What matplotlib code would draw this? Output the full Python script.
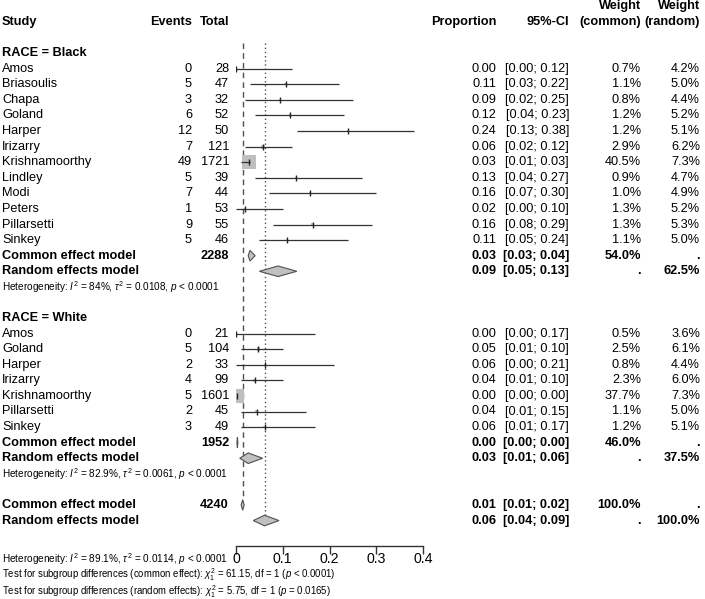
import matplotlib
matplotlib.use("Agg")
import matplotlib.pyplot as plt
import numpy as np

plt.rcParams['font.family'] = ['Liberation Sans', 'DejaVu Sans']
plt.rcParams['mathtext.fontset'] = 'custom'
plt.rcParams['mathtext.rm'] = 'Liberation Sans'
plt.rcParams['mathtext.it'] = 'Liberation Sans:italic'
plt.rcParams['mathtext.bf'] = 'Liberation Sans:bold'

# ---------------- data ----------------
black_study = ["Amos", "Briasoulis", "Chapa", "Goland", "Harper", "Irizarry", "Krishnamoorthy",
               "Lindley", "Modi", "Peters", "Pillarsetti", "Sinkey"]
black_events = [0, 5, 3, 6, 12, 7, 49, 5, 7, 1, 9, 5]
black_total = [28, 47, 32, 52, 50, 121, 1721, 39, 44, 53, 55, 46]
black_prop = [0.000, 0.106, 0.094, 0.115, 0.240, 0.058, 0.0285, 0.128, 0.159, 0.019, 0.164, 0.109]
black_lo = [0.00, 0.03, 0.02, 0.04, 0.13, 0.02, 0.01, 0.04, 0.07, 0.00, 0.08, 0.05]
black_hi = [0.12, 0.22, 0.25, 0.23, 0.38, 0.12, 0.03, 0.27, 0.30, 0.10, 0.29, 0.24]
black_wc = [0.7, 1.1, 0.8, 1.2, 1.2, 2.9, 40.5, 0.9, 1.0, 1.3, 1.3, 1.1]
black_wr = [4.2, 5.0, 4.4, 5.2, 5.1, 6.2, 7.3, 4.7, 4.9, 5.2, 5.3, 5.0]
black_n = 2288
black_common = [0.030, 0.026, 0.041]   # est, lo, hi
black_random = [0.090, 0.050, 0.130]
black_wc_sum, black_wr_sum = 54.0, 62.5
black_het = r"Heterogeneity: $\mathit{I}^2$ = 84%, $\tau^2$ = 0.0108, $\mathit{p}$ < 0.0001"

white_study = ["Amos", "Goland", "Harper", "Irizarry", "Krishnamoorthy", "Pillarsetti", "Sinkey"]
white_events = [0, 5, 2, 4, 5, 2, 3]
white_total = [21, 104, 33, 99, 1601, 45, 49]
white_prop = [0.000, 0.048, 0.061, 0.040, 0.0031, 0.044, 0.061]
white_lo = [0.00, 0.01, 0.00, 0.01, 0.00, 0.01, 0.01]
white_hi = [0.17, 0.10, 0.21, 0.10, 0.00, 0.15, 0.17]
white_wc = [0.5, 2.5, 0.8, 2.3, 37.7, 1.1, 1.2]
white_wr = [3.6, 6.1, 4.4, 6.0, 7.3, 5.0, 5.1]
white_n = 1952
white_common = [0.003, 0.002, 0.004]
white_random = [0.026, 0.008, 0.057]
white_wc_sum, white_wr_sum = 46.0, 37.5
white_het = r"Heterogeneity: $\mathit{I}^2$ = 82.9%, $\tau^2$ = 0.0061, $\mathit{p}$ < 0.0001"

overall_n = 4240
overall_common = [0.0143, 0.011, 0.0175]
overall_random = [0.061, 0.037, 0.092]
overall_het = r"Heterogeneity: $\mathit{I}^2$ = 89.1%, $\tau^2$ = 0.0114, $\mathit{p}$ < 0.0001"
test_common = r"Test for subgroup differences (common effect): $\chi^2_1$ = 61.15, df = 1 ($\mathit{p}$ < 0.0001)"
test_random = r"Test for subgroup differences (random effects): $\chi^2_1$ = 5.75, df = 1 ($\mathit{p}$ = 0.0165)"

xticks = [0, 0.1, 0.2, 0.3, 0.4]
xticklabels = ["0", "0.1", "0.2", "0.3", "0.4"]

# ---------------- layout ----------------
W, H = 705, 599
Y0, DY = 22.0, 15.58          # pixel of row 0, row spacing
def r_of(px):
    return (px - Y0) / DY

fig = plt.figure(figsize=(W / 100, H / 100), dpi=100)
tax = fig.add_axes([0, 0, 1, 1])
tax.set_xlim(0, W)
tax.set_ylim(r_of(H), r_of(0))
tax.axis("off")

AX_L, AX_R, AX_B = 236, 423, 546
fax = fig.add_axes([AX_L / W, (H - AX_B) / H, (AX_R - AX_L) / W, AX_B / H])
fax.set_xlim(0, 0.4)
fax.set_ylim(r_of(AX_B), r_of(0))
fax.patch.set_alpha(0)
for s in ["top", "left", "right"]:
    fax.spines[s].set_visible(False)
fax.spines["bottom"].set_bounds(0, 0.4)
fax.spines["bottom"].set_linewidth(1.0)
fax.spines["bottom"].set_color("#333333")
fax.set_yticks([])
fax.set_xticks(xticks)
fax.set_xticklabels(xticklabels, fontsize=10.2)
fax.tick_params(axis="x", length=6, width=1.0, color="#333333", pad=-1.5)

FS = 9.2
FSH = 7.2
FST = 6.9
X_STUDY, X_EV, X_TOT, X_PROP, X_CI, X_WC, X_WR = 2, 192, 229, 496, 569, 641, 700

def txt(x, r, s, ha="left", bold=False, fs=FS):
    tax.text(x, r, s, ha=ha, va="center", fontsize=fs,
             fontweight="bold" if bold else "normal")

# header
txt(X_STUDY, 0, "Study", bold=True)
txt(X_EV, 0, "Events", ha="right", bold=True)
txt(X_TOT, 0, "Total", ha="right", bold=True)
txt(X_PROP, 0, "Proportion", ha="right", bold=True)
txt(X_CI, 0, "95%-CI", ha="right", bold=True)
txt(X_WC, -1, "Weight", ha="right", bold=True)
txt(X_WC, 0, "(common)", ha="right", bold=True)
txt(X_WR, -1, "Weight", ha="right", bold=True)
txt(X_WR, 0, "(random)", ha="right", bold=True)

def ci_str(lo, hi):
    return f"[{lo:.2f}; {hi:.2f}]"

def diamond(r, est, lo, hi, h=0.34):
    fax.fill([lo, est, hi, est], [r, r - h, r, r + h], facecolor="#c0c0c0",
             edgecolor="#505050", linewidth=0.8, zorder=4)

def group(r0, title, study, ev, tot, prop, lo, hi, wc, wr, n, com, ran, wcs, wrs, het):
    txt(X_STUDY, r0, title, bold=True)
    rows = np.arange(len(study)) + r0 + 1
    for i, r in enumerate(rows):
        txt(X_STUDY, r, study[i])
        txt(X_EV, r, str(ev[i]), ha="right")
        txt(X_TOT, r, str(tot[i]), ha="right")
        txt(X_PROP, r, f"{prop[i]:.2f}", ha="right")
        txt(X_CI, r, ci_str(lo[i], hi[i]), ha="right")
        txt(X_WC, r, f"{wc[i]:.1f}%", ha="right")
        txt(X_WR, r, f"{wr[i]:.1f}%", ha="right")
    sizes = (14 * np.sqrt(np.array(wc) / 40.5) * 0.72) ** 2
    fax.scatter(prop, rows, s=sizes, marker="s", color="#bfbfbf", edgecolor="none", zorder=2)
    fax.hlines(rows, lo, hi, color="#333333", linewidth=0.9, zorder=3)
    fax.plot(prop, rows, linestyle="none", marker="|", markersize=4, color="#222222",
             markeredgewidth=1.0, zorder=3)
    rc = rows[-1] + 1
    txt(X_STUDY, rc, "Common effect model", bold=True)
    txt(X_TOT, rc, str(n), ha="right", bold=True)
    txt(X_PROP, rc, f"{com[0]:.2f}", ha="right", bold=True)
    txt(X_CI, rc, ci_str(com[1], com[2]), ha="right", bold=True)
    txt(X_WC, rc, f"{wcs:.1f}%", ha="right", bold=True)
    txt(X_WR, rc, ".", ha="right", bold=True)
    diamond(rc, *com)
    rr = rc + 1
    txt(X_STUDY, rr, "Random effects model", bold=True)
    txt(X_PROP, rr, f"{ran[0]:.2f}", ha="right", bold=True)
    txt(X_CI, rr, ci_str(ran[1], ran[2]), ha="right", bold=True)
    txt(X_WC, rr, ".", ha="right", bold=True)
    txt(X_WR, rr, f"{wrs:.1f}%", ha="right", bold=True)
    diamond(rr, *ran)
    txt(X_STUDY, rr + 1, het, fs=FSH)
    return rr + 1

end_b = group(2, "RACE = Black", black_study, black_events, black_total, black_prop,
              black_lo, black_hi, black_wc, black_wr, black_n, black_common, black_random,
              black_wc_sum, black_wr_sum, black_het)
end_w = group(end_b + 2, "RACE = White", white_study, white_events, white_total, white_prop,
              white_lo, white_hi, white_wc, white_wr, white_n, white_common, white_random,
              white_wc_sum, white_wr_sum, white_het)

rc = end_w + 2
txt(X_STUDY, rc, "Common effect model", bold=True)
txt(X_TOT, rc, str(overall_n), ha="right", bold=True)
txt(X_PROP, rc, f"{overall_common[0]:.2f}", ha="right", bold=True)
txt(X_CI, rc, ci_str(overall_common[1], overall_common[2]), ha="right", bold=True)
txt(X_WC, rc, "100.0%", ha="right", bold=True)
txt(X_WR, rc, ".", ha="right", bold=True)
diamond(rc, *overall_common)
rr = rc + 1
txt(X_STUDY, rr, "Random effects model", bold=True)
txt(X_PROP, rr, f"{overall_random[0]:.2f}", ha="right", bold=True)
txt(X_CI, rr, ci_str(overall_random[1], overall_random[2]), ha="right", bold=True)
txt(X_WC, rr, ".", ha="right", bold=True)
txt(X_WR, rr, "100.0%", ha="right", bold=True)
diamond(rr, *overall_random)

# reference lines
top = r_of(43)
fax.plot([overall_common[0]] * 2, [top, rc - 0.35], color="#505050", linewidth=1.0,
         dashes=(4, 3), zorder=1)
fax.plot([overall_random[0]] * 2, [top, rr - 0.35], color="#505050", linewidth=1.0,
         dashes=(1, 2), zorder=1)

txt(X_STUDY, rr + 2.45, overall_het, fs=FSH)
txt(X_STUDY, rr + 3.5, test_common, fs=FST)
txt(X_STUDY, rr + 4.55, test_random, fs=FST)

fig.savefig("out.png", dpi=100)
